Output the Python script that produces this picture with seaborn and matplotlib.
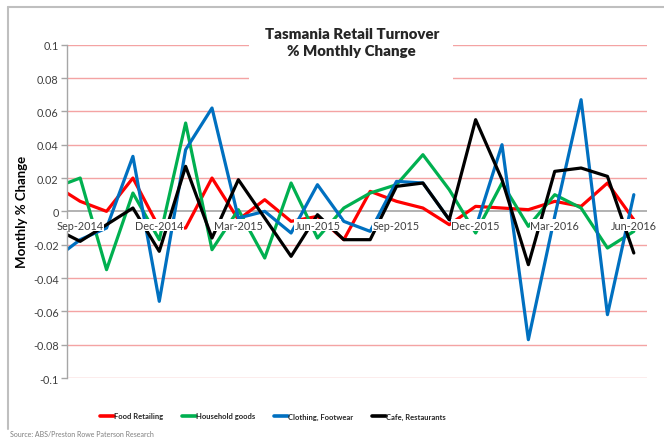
import matplotlib
matplotlib.use('Agg')
import matplotlib.pyplot as plt
import matplotlib.patches as mpatches
from matplotlib.lines import Line2D
import numpy as np
import pandas as pd
import seaborn as sns

# Monthly % change, Aug-2014 .. Jun-2016 (Aug-2014 only shows as the clipped start of each line)
months = ['Aug-2014', 'Sep-2014', 'Oct-2014', 'Nov-2014', 'Dec-2014', 'Jan-2015', 'Feb-2015',
          'Mar-2015', 'Apr-2015', 'May-2015', 'Jun-2015', 'Jul-2015', 'Aug-2015', 'Sep-2015',
          'Oct-2015', 'Nov-2015', 'Dec-2015', 'Jan-2016', 'Feb-2016', 'Mar-2016', 'Apr-2016',
          'May-2016', 'Jun-2016']
food = [0.016, 0.006, 0.000, 0.020, -0.010, -0.010, 0.020, -0.005, 0.007, -0.006, -0.003, -0.017,
        0.012, 0.006, 0.002, -0.008, 0.003, 0.002, 0.001, 0.006, 0.003, 0.017, -0.005]
household = [0.014, 0.020, -0.035, 0.011, -0.017, 0.053, -0.023, 0.001, -0.028, 0.017, -0.016, 0.002,
             0.011, 0.016, 0.034, 0.013, -0.013, 0.017, -0.009, 0.010, 0.002, -0.022, -0.012]
clothing = [-0.029, -0.017, -0.010, 0.033, -0.054, 0.037, 0.062, -0.004, 0.000, -0.013, 0.016, -0.006,
            -0.012, 0.018, 0.017, -0.005, -0.010, 0.040, -0.077, -0.003, 0.067, -0.062, 0.010]
cafe = [-0.010, -0.018, -0.008, 0.002, -0.024, 0.027, -0.016, 0.019, -0.004, -0.027, -0.002, -0.017,
        -0.017, 0.015, 0.017, -0.005, 0.055, 0.019, -0.032, 0.024, 0.026, 0.021, -0.025]
tick_labels = ['Sep-2014', 'Dec-2014', 'Mar-2015', 'Jun-2015', 'Sep-2015', 'Dec-2015', 'Mar-2016', 'Jun-2016']

names = ['Food Retailing', 'Household goods', 'Clothing, Footwear', 'Cafe, Restaurants']
colors = ['#FF0000', '#00B050', '#0070C0', '#000000']

df = pd.DataFrame({'month': months, names[0]: food, names[1]: household,
                   names[2]: clothing, names[3]: cafe})
df['pos'] = np.arange(len(months)) - 1
df_long = df.melt(id_vars=['month', 'pos'], var_name='series', value_name='change')

sns.set_theme(style='white')
plt.rcParams['font.family'] = ['Lato', 'DejaVu Sans']

fig = plt.figure(figsize=(6.64, 4.39), dpi=100)
ax = fig.add_axes([67 / 664, 1 - 379 / 439, 580 / 664, 333.3 / 439])

# gridlines
for v in np.round(np.arange(-0.1, 0.1001, 0.02), 2):
    if v != 0:
        ax.axhline(v, color='#F4A3A3', lw=1, zorder=0.5)
ax.axhline(0, color='#A6A6A6', lw=1.2, zorder=1)

# white box behind the title
ax.add_patch(mpatches.Rectangle((0.314, 0.85), 0.352, 0.25, transform=ax.transAxes,
                                facecolor='white', edgecolor='none', zorder=1, clip_on=False))

sns.lineplot(data=df_long, x='pos', y='change', hue='series', hue_order=names, palette=colors,
             lw=2.3, estimator=None, errorbar=None, legend=False, ax=ax, zorder=2)

ax.set_xlim(-0.5, len(months) - 1.5)
ax.set_ylim(-0.1, 0.1)
ax.set_xticks([])
ax.set_xlabel('')

yt = np.round(np.arange(-0.1, 0.1001, 0.02), 2)
ax.set_yticks(yt)
ax.set_yticklabels(['0' if v == 0 else f'{v:g}' for v in yt])
ax.tick_params(axis='y', left=True, length=4, width=1, color='#A6A6A6', direction='out',
               labelsize=7.8, labelcolor='#404040', pad=2)

for side in ['top', 'right', 'bottom']:
    ax.spines[side].set_visible(False)
ax.spines['left'].set_color('#A6A6A6')
ax.spines['left'].set_linewidth(1)

ax.set_ylabel('Monthly % Change', fontsize=9.5, fontweight='bold', color='black')
ax.yaxis.set_label_coords(-0.067, 0.5)

# category labels sit just under the zero line
for lbl in tick_labels:
    p = months.index(lbl) - 1
    ax.annotate(lbl, (p, 0), xytext=(0, -6), textcoords='offset points', ha='center', va='top',
                fontsize=7.8, color='#404040', zorder=3,
                bbox=dict(facecolor='white', edgecolor='none', pad=0.4))

fig.text(351.7 / 664, 1 - 43 / 439, 'Tasmania Retail Turnover\n% Monthly Change',
         ha='center', va='center', fontsize=10.8, fontweight='heavy', linespacing=1.3)

handles = [Line2D([], [], color=c, lw=2.6) for c in colors]
fig.legend(handles, names, loc='center', bbox_to_anchor=(273 / 664, 1 - 417 / 439), ncol=4,
           frameon=False, prop={'size': 5.5, 'weight': 'bold'}, handlelength=1.8,
           handletextpad=0.1, columnspacing=2.4)

fig.text(10 / 664, 1 - 435 / 439, 'Source: ABS/Preston Rowe Paterson Research',
         fontsize=5, color='#7F7F7F', va='center')

# chart border (left and top edges visible)
fig.add_artist(Line2D([8 / 664, 8 / 664], [1 - 8 / 439, 1 - 430 / 439], transform=fig.transFigure,
                      color='#BFBFBF', lw=1.5))
fig.add_artist(Line2D([8 / 664, 1], [1 - 8 / 439, 1 - 8 / 439], transform=fig.transFigure,
                      color='#BFBFBF', lw=1.5))

fig.savefig('out.png', dpi=100)
